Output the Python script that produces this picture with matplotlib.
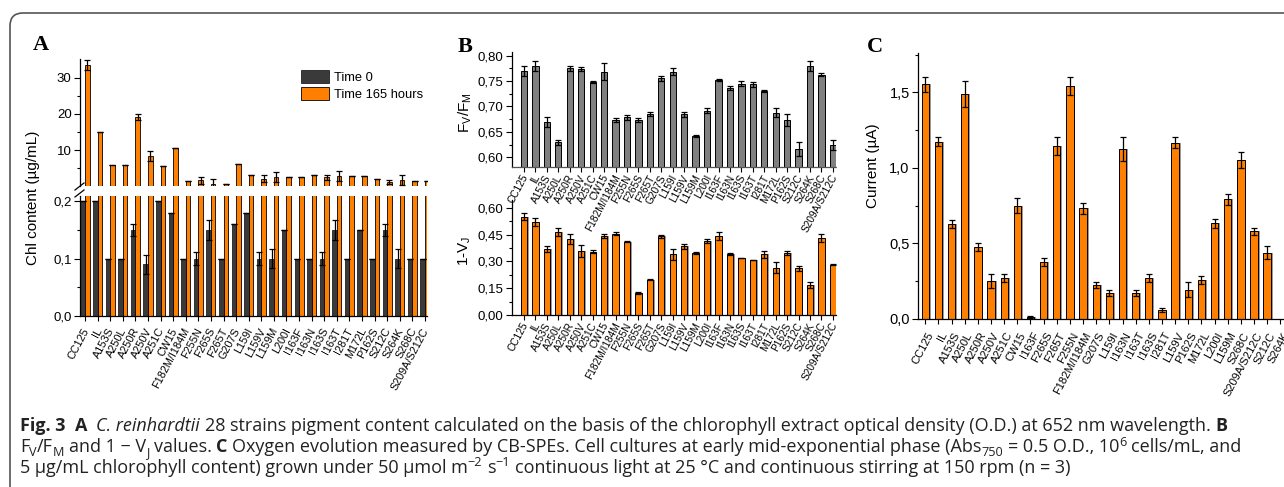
import numpy as np
import matplotlib
matplotlib.use("Agg")
import matplotlib.pyplot as plt
from matplotlib.ticker import FuncFormatter, MultipleLocator, FixedLocator
from matplotlib.patches import FancyBboxPatch
from matplotlib.lines import Line2D
from matplotlib.transforms import IdentityTransform, ScaledTranslation

# ---------------- data ----------------
cats_ab = ['CC125', 'IL', 'A153S', 'A250L', 'A250R', 'A250V', 'A251C', 'CW15',
           'F182M/I184M', 'F255N', 'F265S', 'F265T', 'G207S', 'L159I', 'L159V',
           'L159M', 'L200I', 'I163F', 'I163N', 'I163S', 'I163T', 'I281T', 'M172L',
           'P162S', 'S212C', 'S264K', 'S268C', 'S209A/S212C']

chl_t0 = [0.20, 0.20, 0.10, 0.10, 0.15, 0.09, 0.20, 0.18, 0.10, 0.10, 0.15, 0.10,
          0.16, 0.18, 0.10, 0.10, 0.15, 0.10, 0.10, 0.10, 0.15, 0.10, 0.15, 0.10,
          0.15, 0.10, 0.10, 0.10]
chl_t0_err = [0.0, 0.0, 0.0, 0.0, 0.011, 0.017, 0.0, 0.0, 0.0, 0.011, 0.017, 0.0,
              0.0, 0.0, 0.011, 0.017, 0.0, 0.0, 0.0, 0.011, 0.017, 0.0, 0.0, 0.0,
              0.011, 0.017, 0.0, 0.0]
chl_t165 = [33.5, 14.9, 5.8, 5.8, 19.1, 8.4, 5.7, 10.5, 1.6, 1.7, 0.7, 0.6,
            6.2, 3.2, 2.2, 2.7, 2.5, 2.6, 3.2, 2.5, 2.8, 3.0, 2.9, 2.0,
            1.3, 1.8, 1.4, 1.4]
chl_t165_err = [1.4, 0.0, 0.0, 0.0, 0.8, 1.4, 0.0, 0.0, 0.0, 0.9, 1.3, 0.0,
                0.0, 0.0, 0.9, 1.4, 0.0, 0.0, 0.0, 0.8, 1.4, 0.0, 0.0, 0.0,
                0.6, 1.3, 0.0, 0.0]

fvfm = [0.770, 0.780, 0.670, 0.630, 0.775, 0.773, 0.748, 0.768, 0.674, 0.679,
        0.674, 0.685, 0.755, 0.768, 0.685, 0.642, 0.692, 0.752, 0.737, 0.745,
        0.744, 0.731, 0.688, 0.674, 0.617, 0.780, 0.762, 0.624]
fvfm_err = [0.010, 0.010, 0.010, 0.005, 0.005, 0.004, 0.002, 0.017, 0.004, 0.005,
            0.004, 0.004, 0.005, 0.007, 0.005, 0.002, 0.004, 0.002, 0.004, 0.005,
            0.005, 0.002, 0.008, 0.012, 0.014, 0.010, 0.003, 0.010]

one_vj = [0.550, 0.520, 0.369, 0.466, 0.423, 0.358, 0.354, 0.440, 0.455, 0.410,
          0.123, 0.196, 0.440, 0.339, 0.384, 0.347, 0.414, 0.440, 0.339, 0.319,
          0.307, 0.339, 0.265, 0.347, 0.261, 0.166, 0.429, 0.280]
one_vj_err = [0.020, 0.020, 0.015, 0.022, 0.028, 0.035, 0.010, 0.012, 0.007, 0.003,
              0.003, 0.003, 0.010, 0.030, 0.013, 0.005, 0.013, 0.022, 0.005, 0.002,
              0.002, 0.020, 0.030, 0.010, 0.015, 0.017, 0.022, 0.003]

cats_c = ['CC125', 'IL', 'A153S', 'A250L', 'A250R', 'A250V', 'A251C', 'CW15',
          'I163F', 'F265S', 'F265T', 'F255N', 'F182M/I184M', 'G207S', 'L159I',
          'I163N', 'I163T', 'I163S', 'I281T', 'L159V', 'P162S', 'M172L', 'L200I',
          'L159M', 'S268C', 'S209A/S212C', 'S212C', 'S264K']
current = [1.553, 1.173, 0.626, 1.487, 0.476, 0.251, 0.271, 0.749, 0.013, 0.377,
           1.144, 1.542, 0.733, 0.225, 0.172, 1.124, 0.172, 0.271, 0.059, 1.166,
           0.194, 0.256, 0.632, 0.792, 1.049, 0.579, 0.440, np.nan]
current_err = [0.050, 0.030, 0.026, 0.085, 0.026, 0.048, 0.029, 0.050, 0.005, 0.026,
               0.057, 0.062, 0.037, 0.018, 0.022, 0.077, 0.022, 0.029, 0.013, 0.035,
               0.048, 0.026, 0.029, 0.038, 0.053, 0.022, 0.040, np.nan]

# ---------------- style ----------------
W, H = 1284, 487
plt.rcParams['font.family'] = ['Liberation Sans', 'DejaVu Sans']
plt.rcParams['axes.linewidth'] = 0.9
ORANGE = '#ff8000'
DARK = '#3a3a3a'
GRAY = '#808080'
TICK_FS = 9.5
LAB_FS = 11

fig = plt.figure(figsize=(W / 100, H / 100), dpi=100)


def ax_px(x0, y0, x1, y1):
    return fig.add_axes([x0 / W, 1 - y1 / H, (x1 - x0) / W, (y1 - y0) / H])


def comma(nd):
    return FuncFormatter(lambda v, p: f'{v:.{nd}f}'.replace('.', ','))


def style_axes(ax, bottom=True):
    for s in ['top', 'right']:
        ax.spines[s].set_visible(False)
    ax.spines['bottom'].set_visible(bottom)
    ax.tick_params(axis='both', which='major', direction='out', length=4, width=0.8,
                   labelsize=TICK_FS, pad=2)
    ax.tick_params(axis='both', which='minor', direction='out', length=2.5, width=0.8)
    ax.patch.set_alpha(0)


def xlabels(ax, cats, fs, pad, dx=0.0):
    ax.set_xticks(np.arange(len(cats)))
    ax.set_xticklabels(cats, rotation=62, ha='right', va='center', rotation_mode='anchor')
    ax.tick_params(axis='x', which='major', length=3.5, labelsize=fs, pad=pad)
    if dx:
        off = ScaledTranslation(dx / 100, 0, fig.dpi_scale_trans)
        for lab in ax.get_xticklabels():
            lab.set_transform(lab.get_transform() + off)


def ptext(x, y, s, **kw):
    return fig.text(x / W, 1 - y / H, s, **kw)


eb_kw = dict(fmt='none', ecolor='black', elinewidth=0.9, capsize=2.2, capthick=0.9, zorder=4)

# ---------------- Panel A ----------------
xa = np.arange(len(cats_ab))
bw = 0.36
axA1 = ax_px(80, 59, 427, 186)
axA2 = ax_px(80, 196, 427, 316)
for ax in (axA1, axA2):
    ax.bar(xa - bw / 2, chl_t0, bw, color=DARK, edgecolor='#222222', linewidth=0.6,
           label='Time 0', zorder=2)
    ax.bar(xa + bw / 2, chl_t165, bw, color=ORANGE, edgecolor='black', linewidth=0.6,
           label='Time 165 hours', zorder=2)
    ax.set_xlim(-0.4, 27.16)
axA1.errorbar(xa + bw / 2, chl_t165, yerr=chl_t165_err, **eb_kw)
axA2.errorbar(xa - bw / 2, chl_t0, yerr=chl_t0_err, **eb_kw)
axA1.set_ylim(0.15, 35.1)
axA2.set_ylim(0, 0.209)
style_axes(axA1, bottom=False)
style_axes(axA2)
axA1.set_xticks([])
axA1.yaxis.set_major_locator(FixedLocator([10, 20, 30]))
axA1.yaxis.set_minor_locator(FixedLocator([5, 15, 25]))
axA1.yaxis.set_major_formatter(comma(0))
axA2.yaxis.set_major_locator(MultipleLocator(0.1))
axA2.yaxis.set_minor_locator(MultipleLocator(0.05))
axA2.yaxis.set_major_formatter(comma(1))
xlabels(axA2, cats_ab, 7.8, 5.5, dx=1.5)
axA1.legend(loc='upper left', bbox_to_anchor=(301 / W, 1 - 70 / H),
            bbox_transform=fig.transFigure, frameon=False, fontsize=9.3,
            handlelength=2.2, handleheight=1.2, handletextpad=0.35,
            labelspacing=0.2, borderpad=0, borderaxespad=0)
# axis break marks
for (xa0, ya0, xa1, ya1) in [(75, 190, 84, 183), (75, 197, 84, 190)]:
    fig.add_artist(Line2D([xa0 / W, xa1 / W], [1 - ya0 / H, 1 - ya1 / H],
                          color='black', lw=0.9, transform=fig.transFigure))
ptext(33.5, 198, 'Chl content (µg/mL)', rotation=90, ha='center', va='center',
      fontsize=LAB_FS)

# ---------------- Panel B ----------------
bwb = 0.55
axB1 = ax_px(512, 52, 836, 167)
axB2 = ax_px(512, 200, 836, 315)
axB1.bar(xa, fvfm, bwb, color=GRAY, edgecolor='black', linewidth=0.7, zorder=2)
axB1.errorbar(xa, fvfm, yerr=fvfm_err, **eb_kw)
axB2.bar(xa + 0.14, one_vj, bwb, color='#9a9a9a', edgecolor='none', zorder=1)
axB2.bar(xa, one_vj, bwb, color=ORANGE, edgecolor='black', linewidth=0.7, zorder=2)
axB2.errorbar(xa, one_vj, yerr=one_vj_err, **eb_kw)
for ax in (axB1, axB2):
    ax.set_xlim(-1.05, 27.27)
    style_axes(ax)
    xlabels(ax, cats_ab, 7.3, 2.5, dx=2)
axB1.set_ylim(0.581, 0.807)
axB1.spines['bottom'].set_linestyle((0, (1, 1)))
axB1.spines['bottom'].set_color('#555555')
axB1.yaxis.set_major_locator(MultipleLocator(0.05))
axB1.yaxis.set_minor_locator(MultipleLocator(0.025))
axB1.yaxis.set_major_formatter(comma(2))
axB2.set_ylim(0, 0.643)
axB2.yaxis.set_major_locator(MultipleLocator(0.15))
axB2.yaxis.set_minor_locator(MultipleLocator(0.075))
axB2.yaxis.set_major_formatter(comma(2))
ptext(465, 113, r'F$_{\mathregular{V}}$/F$_{\mathregular{M}}$', rotation=90,
      ha='center', va='center', fontsize=LAB_FS)
ptext(465, 251, r'1-V$_{\mathregular{J}}$', rotation=90, ha='center', va='center',
      fontsize=LAB_FS)

# ---------------- Panel C ----------------
xc = np.arange(len(cats_c))
bwc = 0.56
axC = ax_px(918, 53, 1300, 319)
axC.bar(xc + 0.14, current, bwc, color='#9a9a9a', edgecolor='none', zorder=1)
axC.bar(xc, current, bwc, color=ORANGE, edgecolor='black', linewidth=0.7, zorder=2)
axC.errorbar(xc, current, yerr=current_err, **eb_kw)
axC.set_xlim(-0.556, 28.5)
axC.set_ylim(0, 1.76)
style_axes(axC)
xlabels(axC, cats_c, 8.0, 6.5, dx=6)
axC.yaxis.set_major_locator(MultipleLocator(0.5))
axC.yaxis.set_minor_locator(MultipleLocator(0.25))
axC.yaxis.set_major_formatter(comma(1))
axC.tick_params(axis='y', labelsize=10.5)
ptext(873, 166, 'Current (µA)', rotation=90, ha='center', va='center', fontsize=LAB_FS)

# panel letters
for x, y, s in [(33, 50, 'A'), (458, 52, 'B'), (867, 52, 'C')]:
    ptext(x, y, s, fontsize=16, family=['Liberation Serif', 'DejaVu Serif'],
          weight='bold', ha='left', va='baseline')

# ---------------- frame ----------------
frame = FancyBboxPatch((10, -40), 1320, H - 13 + 40,
                       boxstyle='round,pad=0,rounding_size=13',
                       transform=IdentityTransform(), facecolor='none',
                       edgecolor='#555555', linewidth=1.2, zorder=0)
fig.patches.append(frame)

# ---------------- caption ----------------
CAP_FAMILY = 'Open Sans'
renderer = fig.canvas.get_renderer()
N, Bd, It, SUB, SUP = 'n', 'b', 'i', 'sub', 'sup'
cap_lines = [
    [('Fig. 3', Bd), (' ', N), ('A', Bd), (' ', N), ('C. reinhardtii', It),
     (' 28 strains pigment content calculated on the basis of the chlorophyll extract '
      'optical density (O.D.) at 652 nm wavelength. ', N), ('B', Bd)],
    [('F', N), ('V', SUB), ('/F', N), ('M', SUB), (' and 1 − V', N), ('J', SUB),
     (' values. ', N), ('C', Bd),
     (' Oxygen evolution measured by CB-SPEs. Cell cultures at early mid-exponential '
      'phase (Abs', N), ('750', SUB), (' = 0.5 O.D., 10', N), ('6', SUP),
     (' cells/mL, and', N)],
    [('5 µg/mL chlorophyll content) grown under 50 µmol m', N), ('−2', SUP), (' s', N),
     ('−1', SUP), (' continuous light at 25 °C and continuous stirring at 150 rpm (n = 3)', N)],
]
cap_base = [431, 452, 473]


def draw_line(segs, x0, y, fs, draw=True):
    t = fig.text(0, 0, 'a a', fontsize=fs, family=CAP_FAMILY)
    w2 = t.get_window_extent(renderer).width
    t.set_text('aa')
    sp = w2 - t.get_window_extent(renderer).width
    t.remove()
    px = fs * 100 / 72
    x = x0
    arts = []
    for s, kind in segs:
        lead = len(s) - len(s.lstrip(' '))
        trail = len(s) - len(s.rstrip(' '))
        core = s.strip(' ')
        x += lead * sp
        size, dy = fs, 0.0
        wgt, sty = 'normal', 'normal'
        if kind == Bd:
            wgt = 'bold'
        elif kind == It:
            sty = 'italic'
        elif kind == SUB:
            size, dy = fs * 0.7, 0.2 * px
        elif kind == SUP:
            size, dy = fs * 0.7, -0.36 * px
        tt = ptext(x, y + dy, core, fontsize=size, weight=wgt, style=sty,
                   family=CAP_FAMILY, ha='left', va='baseline', color='#222222')
        x += tt.get_window_extent(renderer).width + trail * sp
        arts.append(tt)
    if not draw:
        for a in arts:
            a.remove()
    return x - x0


fs0 = 10.0
w0 = draw_line(cap_lines[0], 20, cap_base[0], fs0, draw=False)
fs = min(fs0 * (1234 / w0), 13.0)
for segs, yb in zip(cap_lines, cap_base):
    draw_line(segs, 20, yb, fs)

fig.savefig('out.png', dpi=100)
